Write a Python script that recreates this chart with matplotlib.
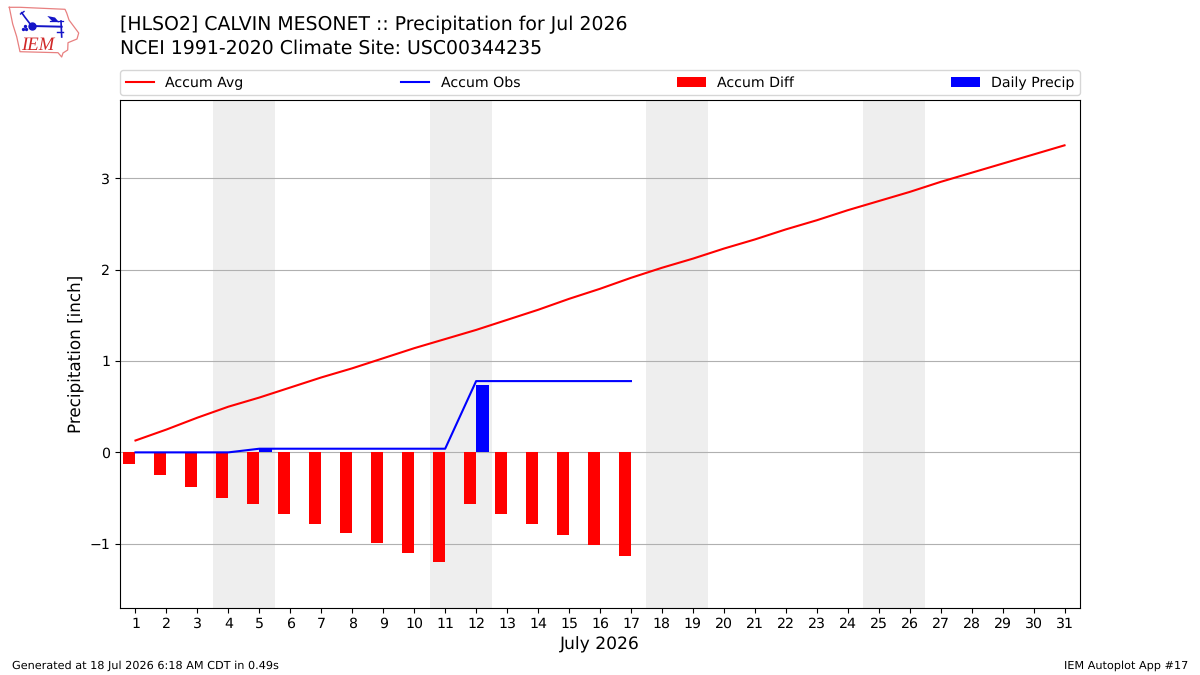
import numpy as np
import matplotlib
matplotlib.use("Agg")
import matplotlib.pyplot as plt

plt.rcParams["text.hinting"] = "no_hinting"

days = np.arange(1, 32)
accum_avg = [0.13, 0.25, 0.38, 0.50, 0.60, 0.71, 0.82, 0.92, 1.03, 1.14, 1.24,
             1.34, 1.45, 1.56, 1.68, 1.79, 1.91, 2.02, 2.12, 2.23, 2.33, 2.44,
             2.54, 2.65, 2.75, 2.85, 2.96, 3.06, 3.16, 3.26, 3.36]
accum_obs = [0.0, 0.0, 0.0, 0.0, 0.04, 0.04, 0.04, 0.04, 0.04, 0.04, 0.04,
             0.78, 0.78, 0.78, 0.78, 0.78, 0.78]
accum_diff = [-0.13, -0.25, -0.38, -0.50, -0.56, -0.67, -0.78, -0.88, -0.99,
              -1.10, -1.20, -0.56, -0.67, -0.78, -0.90, -1.01, -1.13]
daily_precip = [0.0, 0.0, 0.0, 0.0, 0.04, 0.0, 0.0, 0.0, 0.0, 0.0, 0.0,
                0.74, 0.0, 0.0, 0.0, 0.0, 0.0]
weekend_spans = [(3.5, 5.5), (10.5, 12.5), (17.5, 19.5), (24.5, 26.5)]

W, H = 1200, 675
fig = plt.figure(figsize=(12, 6.75), dpi=100)
ax = fig.add_axes([120 / W, 1 - 608 / H, 960 / W, 508 / H])

for start, end in weekend_spans:
    ax.axvspan(start, end, facecolor="#eeeeee", edgecolor="none", zorder=0)
ax.yaxis.grid(True, color="#b0b0b0", linewidth=0.8, zorder=1)
ax.set_axisbelow(True)

obs_days = days[: len(accum_obs)]
ax.plot(days, accum_avg, color="red", linewidth=1.5, label="Accum Avg", zorder=3)
ax.plot(obs_days, accum_obs, color="blue", linewidth=1.5, label="Accum Obs", zorder=3)
ax.bar(obs_days, accum_diff, width=-0.4, align="edge", color="red",
       label="Accum Diff", zorder=2)
ax.bar(obs_days, daily_precip, width=0.4, align="edge", color="blue",
       label="Daily Precip", zorder=2)

ax.set_xlim(0.5, 31.5)
ax.set_ylim(-1.703, 3.856)
ax.set_xticks(days)
ax.set_yticks([-1, 0, 1, 2, 3])
ax.tick_params(axis="both", labelsize=10.2)
ax.tick_params(axis="x", pad=3)
ax.set_xlabel("July 2026", fontsize=12.3, labelpad=4.5)
ax.set_ylabel("Precipitation [inch]", fontsize=12.1, labelpad=3)

ax.legend(loc="lower left", bbox_to_anchor=(0, 1.0095, 1, 0.05), ncol=4,
          mode="expand", borderaxespad=0, fontsize=10.2)

fig.text(120 / W, 1 - 25 / H, "[HLSO2] CALVIN MESONET :: Precipitation for Jul 2026",
         fontsize=13.55, va="center", ha="left")
fig.text(120 / W, 1 - 48 / H, "NCEI 1991-2020 Climate Site: USC00344235",
         fontsize=13.55, va="center", ha="left")
fig.text(12 / W, 1 - 665.5 / H, "Generated at 18 Jul 2026 6:18 AM CDT in 0.49s",
         fontsize=8.1, va="center", ha="left")
fig.text(1188 / W, 1 - 665.5 / H, "IEM Autoplot App #17",
         fontsize=8.1, va="center", ha="right")

# IEM badge: state outline, weather-station glyph and wordmark, in pixel units
badge = fig.add_axes([0, 1 - 70 / H, 130 / W, 70 / H])
badge.set_xlim(0, 130)
badge.set_ylim(70, 0)
badge.axis("off")
outline_x = [9.3, 20, 65, 66.7, 69, 74, 78.7, 77, 68, 67.7, 63, 61.7, 58, 20, 16.7, 12.7, 9.3]
outline_y = [7.3, 7.3, 9.3, 13, 20, 26.7, 33, 39, 42.7, 50, 53, 57, 52.7, 51.7, 36.7, 24, 7.3]
badge.plot(outline_x, outline_y, color="#e88080", linewidth=0.9)
glyph = "#1414c8"
badge.plot([31.7, 61.7], [26, 26.7], color=glyph, linewidth=1.4)
badge.plot([21.7, 25, 31.7], [12.7, 17.3, 26], color=glyph, linewidth=1.2)
badge.plot([20.5, 24], [14, 11.5], color=glyph, linewidth=1.0)
badge.plot([31.7], [26], "o", color=glyph, markersize=5)
badge.fill([47.3, 55, 59.3, 52], [16, 17.5, 22.5, 21], color=glyph, linewidth=0)
badge.plot([50, 63.3], [21, 21], color=glyph, linewidth=0.9)
badge.plot([61, 61.7], [21, 37], color=glyph, linewidth=1.2)
badge.plot([56.7, 63.3], [31.7, 31.7], color=glyph, linewidth=1.0)
badge.plot([23.3, 26, 24.7], [28.5, 28.5, 26], "o", color=glyph, markersize=1.4)
badge.text(38, 45, "IEM", color="#d02828", fontsize=13.5, style="italic",
           family="Liberation Serif", ha="center", va="center")

fig.savefig("out.png", dpi=100)
